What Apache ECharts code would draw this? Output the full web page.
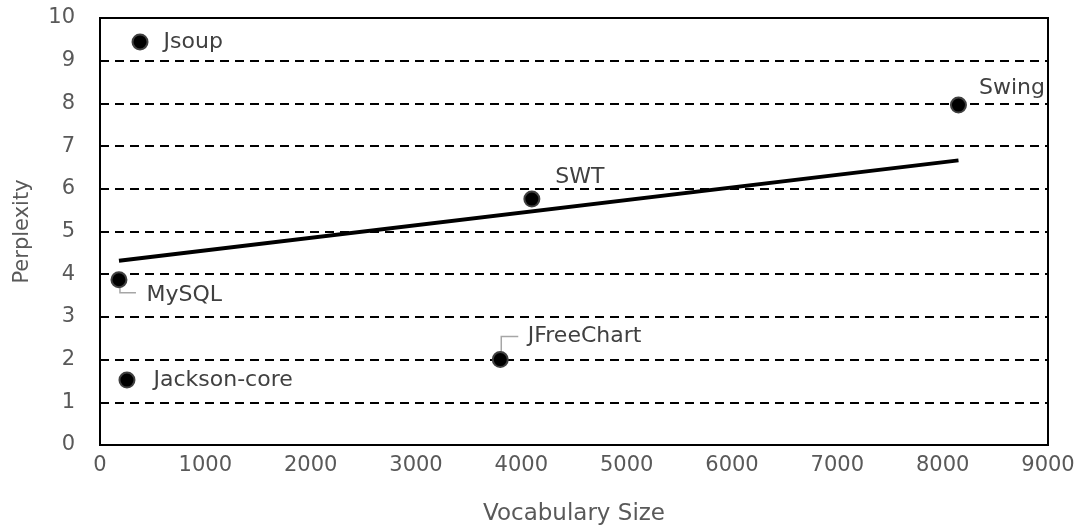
<!DOCTYPE html>
<html><head><meta charset="utf-8">
<script src="https://cdn.jsdelivr.net/npm/echarts@6/dist/echarts.min.js"></script>
<style>html,body{margin:0;padding:0;background:#fff}#c{width:1087px;height:532px}</style>
</head><body><div id="c"></div>
<script>
const projects = ['Jsoup','MySQL','Jackson-core','JFreeChart','SWT','Swing'];
const vocabSize = [380, 180, 256, 3800, 4100, 8150];
const perplexity = [9.44, 3.87, 1.52, 2.0, 5.76, 7.96];
const xTicks = [0,1000,2000,3000,4000,5000,6000,7000,8000,9000];
const yTicks = [0,1,2,3,4,5,6,7,8,9,10];

// linear trendline (least squares) from the data
const n = vocabSize.length;
const mx = vocabSize.reduce((a,b)=>a+b,0)/n;
const my = perplexity.reduce((a,b)=>a+b,0)/n;
let sxy=0, sxx=0;
for(let i=0;i<n;i++){sxy+=(vocabSize[i]-mx)*(perplexity[i]-my);sxx+=(vocabSize[i]-mx)**2;}
const slope=sxy/sxx, icpt=my-slope*mx;
const xmin=Math.min(...vocabSize), xmax=Math.max(...vocabSize);
const trend=[[xmin,icpt+slope*xmin],[xmax,icpt+slope*xmax]];

const FONT='"DejaVu Sans", sans-serif';
const labelCfg = {
  'Jsoup':{position:'right',distance:15},
  'MySQL':{position:'right',distance:19, offset:[0,16]},
  'Jackson-core':{position:'right',distance:18},
  'JFreeChart':{position:'right',distance:19, offset:[0,-23]},
  'SWT':{position:'right',distance:15, offset:[0,-22]},
  'Swing':{position:'right',distance:12, offset:[0,-17]}
};
// elbow leader lines (pixel offsets from the point): [vertical drop, horizontal run]
const leaders = {'MySQL':[13,16],'JFreeChart':[-23,17]};
const pts = projects.map((p,i)=>({name:p,value:[vocabSize[i],perplexity[i]],
  label:Object.assign({show:true,formatter:p},labelCfg[p])}));
const leaderData = projects.map((p,i)=>leaders[p]?[vocabSize[i],perplexity[i],leaders[p][0],leaders[p][1]]:null).filter(Boolean);

const chart=echarts.init(document.getElementById('c'));
chart.setOption({
  animation:false,
  grid:{left:100,right:39,top:18,bottom:87,show:true,borderColor:'#000',borderWidth:2,outerBoundsMode:'none',containLabel:false},
  xAxis:{type:'value',min:0,max:9000,interval:1000,
    name:'Vocabulary Size',nameLocation:'middle',nameGap:58,
    nameTextStyle:{fontFamily:FONT,fontSize:23,color:'#595959'},
    axisLine:{show:true,lineStyle:{color:'#000',width:2}},axisTick:{show:false},
    axisLabel:{fontFamily:FONT,fontSize:21,color:'#595959',margin:10,
      formatter:v=>xTicks.includes(v)?String(v):''},
    splitLine:{show:false}},
  yAxis:{type:'value',min:0,max:10,interval:1,
    name:'Perplexity',nameLocation:'middle',nameGap:67,
    nameTextStyle:{fontFamily:FONT,fontSize:21,color:'#595959'},
    axisLine:{show:true,lineStyle:{color:'#000',width:2}},axisTick:{show:false},
    axisLabel:{fontFamily:FONT,fontSize:21,color:'#595959',margin:25,
      formatter:v=>yTicks.includes(v)?String(v):''},
    splitLine:{show:true,lineStyle:{color:'#000',width:2,type:[9,6]}}},
  series:[
    {type:'line',data:trend,symbol:'none',lineStyle:{color:'#000',width:4},z:3,silent:true},
    {type:'custom',data:leaderData,z:3,silent:true,
      renderItem:(params,api)=>{
        const c=api.coord([api.value(0),api.value(1)]);
        const dy=api.value(2), dx=api.value(3);
        return {type:'polyline',shape:{points:[[c[0]+1,c[1]],[c[0]+1,c[1]+dy],[c[0]+1+dx,c[1]+dy]]},
          style:{stroke:'#a6a6a6',lineWidth:1.5,fill:null}};
      }},
    {type:'scatter',data:pts,symbol:'circle',symbolSize:15,
      itemStyle:{color:'#000',borderColor:'#404040',borderWidth:2,opacity:1},z:4,
      label:{fontFamily:FONT,fontSize:22,color:'#404040'}}
  ]
});
</script></body></html>
